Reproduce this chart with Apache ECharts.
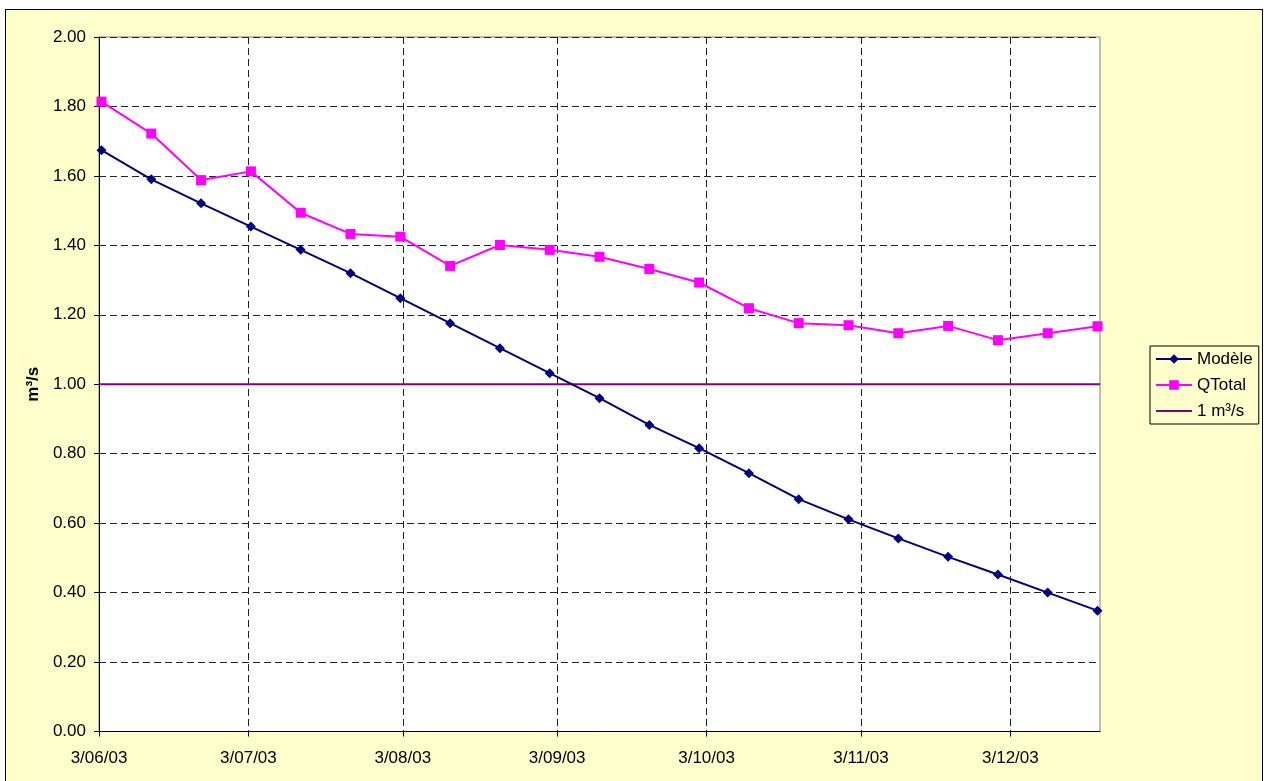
<!DOCTYPE html>
<html>
<head>
<meta charset="utf-8">
<title>Débits Modèle / QTotal 2003</title>
<script src="https://cdn.jsdelivr.net/npm/echarts@6/dist/echarts.min.js"></script>
<style>
  html, body { margin: 0; padding: 0; background: #ffffff; overflow: hidden; }
  #frame {
    position: absolute; left: 5px; top: 9px;
    width: 1256px; height: 771px;
    background: #FFFFCC; border: 1px solid #000;
  }
  #chart { position: absolute; left: 0; top: 0; width: 1264px; height: 781px; }
</style>
</head>
<body>
<div id="frame"></div>
<div id="chart"></div>
<script>
// Sample dates (every 10 days)
const dates = [
  '2003-06-03', '2003-06-13', '2003-06-23', '2003-07-03', '2003-07-13',
  '2003-07-23', '2003-08-02', '2003-08-12', '2003-08-22', '2003-09-01',
  '2003-09-11', '2003-09-21', '2003-10-01', '2003-10-11', '2003-10-21',
  '2003-10-31', '2003-11-10', '2003-11-20', '2003-11-30', '2003-12-10',
  '2003-12-20'
];

// Modelled discharge (m³/s)
const modele = [
  1.674, 1.590, 1.521, 1.454, 1.387, 1.320, 1.248, 1.176, 1.104, 1.032,
  0.960, 0.883, 0.816, 0.744, 0.669, 0.611, 0.556, 0.503, 0.452, 0.400,
  0.348
];

// Measured total discharge (m³/s)
const qtotal = [
  1.814, 1.722, 1.588, 1.613, 1.494, 1.433, 1.425, 1.341, 1.401, 1.387,
  1.367, 1.332, 1.293, 1.219, 1.176, 1.170, 1.147, 1.168, 1.127, 1.147,
  1.167
];

// Reference threshold
const threshold = 1.0;

// Date axis: range and monthly tick dates
const axisStart = '2003-06-03';
const axisEnd = '2003-12-21';
const tickDates = [
  '2003-06-03', '2003-07-03', '2003-08-03', '2003-09-03',
  '2003-10-03', '2003-11-03', '2003-12-03'
];

// Y axis
const yMin = 0, yMax = 2, yStep = 0.2;

const DAY = 24 * 3600 * 1000;
function toTime(s) {
  const p = s.split('-').map(Number);
  return Date.UTC(p[0], p[1] - 1, p[2]);
}
// points sit in the middle of their day on the date axis
function pointTime(s) { return toTime(s) + DAY / 2; }

function fmtDate(v) {
  const d = new Date(v);
  const mm = String(d.getUTCMonth() + 1).padStart(2, '0');
  const yy = String(d.getUTCFullYear() % 100).padStart(2, '0');
  return d.getUTCDate() + '/' + mm + '/' + yy;
}

const FONT = '"Liberation Sans", Arial, sans-serif';
const ticks = tickDates.map(toTime);

const chart = echarts.init(document.getElementById('chart'), null, { renderer: 'canvas' });

chart.setOption({
  animation: false,
  textStyle: { fontFamily: FONT },
  grid: {
    left: 99, top: 37, right: 164, bottom: 49.5,
    show: true, backgroundColor: '#ffffff',
    borderColor: '#808080', borderWidth: 1
  },
  legend: {
    orient: 'vertical',
    left: 1150, top: 346,
    padding: [3, 6, 3, 5],
    itemWidth: 36, itemHeight: 12, itemGap: 6,
    backgroundColor: '#FFFFCC',
    borderColor: '#000', borderWidth: 1, borderRadius: 0,
    textStyle: { fontFamily: FONT, fontSize: 17, color: '#000', lineHeight: 20 },
    data: [
      'Modèle',
      'QTotal',
      // plain line, no marker
      { name: '1 m³/s', itemStyle: { opacity: 0 } }
    ]
  },
  xAxis: {
    type: 'value',
    min: toTime(axisStart),
    max: toTime(axisEnd),
    axisLine: { show: true, onZero: false, lineStyle: { color: '#000', width: 1 } },
    axisTick: { show: true, length: 5, customValues: ticks, lineStyle: { color: '#000' } },
    axisLabel: {
      customValues: ticks,
      formatter: fmtDate,
      fontFamily: FONT, fontSize: 17, color: '#000', margin: 18,
      hideOverlap: false
    },
    splitLine: {
      show: true,
      customValues: ticks,
      lineStyle: { color: '#222', type: [7, 4], width: 1 }
    }
  },
  yAxis: {
    type: 'value',
    min: yMin, max: yMax, interval: yStep,
    name: 'm³/s',
    nameLocation: 'middle',
    nameRotate: 90,
    nameGap: 56,
    nameTextStyle: { fontFamily: FONT, fontSize: 17, fontWeight: 'bold', color: '#000' },
    axisLine: { show: true, lineStyle: { color: '#000', width: 1 } },
    axisTick: { show: true, length: 5, lineStyle: { color: '#000' } },
    axisLabel: {
      formatter: v => v.toFixed(2),
      fontFamily: FONT, fontSize: 17, color: '#000', margin: 13
    },
    splitLine: { show: true, lineStyle: { color: '#222', type: [7, 4], width: 1 } }
  },
  series: [
    {
      name: 'Modèle',
      type: 'line',
      data: dates.map((d, i) => [pointTime(d), modele[i]]),
      symbol: 'diamond', symbolSize: 10,
      itemStyle: { color: '#000080' },
      lineStyle: { color: '#000080', width: 2 },
      z: 4
    },
    {
      name: 'QTotal',
      type: 'line',
      data: dates.map((d, i) => [pointTime(d), qtotal[i]]),
      symbol: 'rect', symbolSize: 10,
      itemStyle: { color: '#FF00FF' },
      lineStyle: { color: '#FF00FF', width: 2 },
      z: 3
    },
    {
      name: '1 m³/s',
      type: 'line',
      data: [[toTime(axisStart), threshold], [toTime(axisEnd), threshold]],
      symbol: 'none',
      itemStyle: { color: '#800080' },
      lineStyle: { color: '#800080', width: 2 },
      z: 2
    }
  ]
});
</script>
</body>
</html>
